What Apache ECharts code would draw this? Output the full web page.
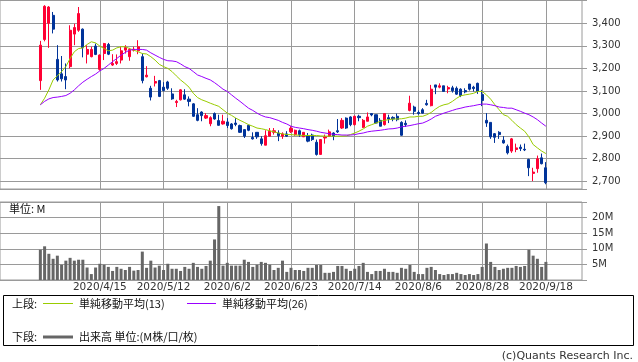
<!DOCTYPE html>
<html><head><meta charset="utf-8">
<script src="https://cdn.jsdelivr.net/npm/echarts@6/dist/echarts.min.js"></script>
<style>html,body{margin:0;padding:0;background:#fff}#c{width:638px;height:362px}</style>
</head><body><div id="c"></div>
<script>
const dates = ["2020/3/26","2020/3/27","2020/3/30","2020/3/31","2020/4/1","2020/4/2","2020/4/3","2020/4/6","2020/4/7","2020/4/8",
"2020/4/9","2020/4/10","2020/4/13","2020/4/14","2020/4/15","2020/4/16","2020/4/17","2020/4/20","2020/4/21","2020/4/22",
"2020/4/23","2020/4/24","2020/4/27","2020/4/28","2020/4/30","2020/5/1","2020/5/7","2020/5/8","2020/5/11","2020/5/12",
"2020/5/13","2020/5/14","2020/5/15","2020/5/18","2020/5/19","2020/5/20","2020/5/21","2020/5/22","2020/5/25","2020/5/26",
"2020/5/27","2020/5/28","2020/5/29","2020/6/1","2020/6/2","2020/6/3","2020/6/4","2020/6/5","2020/6/8","2020/6/9",
"2020/6/10","2020/6/11","2020/6/12","2020/6/15","2020/6/16","2020/6/17","2020/6/18","2020/6/19","2020/6/22","2020/6/23",
"2020/6/24","2020/6/25","2020/6/26","2020/6/29","2020/6/30","2020/7/1","2020/7/2","2020/7/3","2020/7/6","2020/7/7",
"2020/7/8","2020/7/9","2020/7/10","2020/7/13","2020/7/14","2020/7/15","2020/7/16","2020/7/17","2020/7/20","2020/7/21",
"2020/7/22","2020/7/27","2020/7/28","2020/7/29","2020/7/30","2020/7/31","2020/8/3","2020/8/4","2020/8/5","2020/8/6",
"2020/8/7","2020/8/11","2020/8/12","2020/8/13","2020/8/14","2020/8/17","2020/8/18","2020/8/19","2020/8/20","2020/8/21",
"2020/8/24","2020/8/25","2020/8/26","2020/8/27","2020/8/28","2020/8/31","2020/9/1","2020/9/2","2020/9/3","2020/9/4",
"2020/9/7","2020/9/8","2020/9/9","2020/9/10","2020/9/11","2020/9/14","2020/9/15","2020/9/16","2020/9/17","2020/9/18"];
const tickLabels = ["2020/4/15","2020/5/12","2020/6/2","2020/6/23","2020/7/14","2020/8/6","2020/8/28","2020/9/18"];

const open = [3146,3328,3400,3435,3240,3176,3164,3208,3352,3369,
3374,3263,3252,3299,3196,3266,3306,3215,3222,3237,
3281,3252,3281,3278,3252,3163,3112,3135,3146,3117,
3140,3087,3049,3061,3083,3064,3043,2995,3007,2980,
2955,3000,2969,2954,2963,2954,2958,2947,2929,2948,
2894,2917,2888,2860,2900,2917,2914,2900,2910,2919,
2907,2924,2897,2902,2905,2873,2819,2892,2900,2914,
2924,2936,2980,2985,2951,2988,2939,2966,3000,2995,
2970,2951,2982,2983,2988,2961,2957,3014,3029,3005,
3017,3045,3035,3127,3117,3123,3109,3114,3112,3108,
3102,3131,3117,3134,3084,2970,2961,2911,2917,2882,
2855,2834,2841,2851,2842,2797,2735,2756,2804,2760];
const close = [3303,3475,3472,3374,3149,3154,3149,3369,3381,3443,
3291,3284,3284,3262,3259,3310,3263,3222,3230,3278,
3293,3284,3285,3296,3146,3170,3073,3142,3076,3102,
3112,3065,3054,3105,3064,3054,2988,2970,2991,2991,
2982,2976,2948,2966,2947,2933,2952,2917,2900,2926,
2888,2897,2867,2902,2922,2924,2902,2910,2900,2935,
2926,2907,2917,2878,2885,2819,2885,2896,2919,2900,
2919,2970,2936,2951,2988,2982,2970,2985,2994,2958,
2944,3000,2976,2976,2973,2904,2951,3046,3010,3000,
3002,3039,3108,3117,3123,3098,3115,3101,3086,3080,
3096,3108,3111,3098,3058,2958,2897,2895,2907,2870,
2826,2888,2848,2845,2839,2760,2741,2800,2778,2694];
const high = [3322,3480,3476,3450,3303,3255,3222,3391,3398,3472,
3377,3303,3296,3310,3262,3313,3313,3263,3262,3296,
3303,3291,3296,3325,3266,3210,3123,3167,3149,3139,
3145,3112,3061,3108,3108,3076,3046,3024,3010,3002,
2988,3005,2995,2995,2980,2958,2980,2951,2929,2951,
2917,2917,2900,2926,2936,2936,2926,2917,2922,2944,
2929,2929,2917,2914,2911,2885,2885,2907,2929,2917,
2976,2980,2983,2988,2991,2995,2976,3005,3002,2995,
2980,3000,2995,2988,3000,2966,2970,3079,3035,3014,
3024,3061,3127,3127,3134,3123,3123,3123,3120,3112,
3112,3131,3123,3137,3105,3002,2961,2914,2922,2900,
2863,2892,2867,2863,2867,2800,2760,2814,2823,2785];
const low = [3105,3320,3291,3355,3142,3142,3108,3200,3303,3362,
3249,3222,3249,3259,3190,3237,3259,3211,3215,3222,
3266,3234,3275,3263,3134,3160,3058,3120,3073,3098,
3105,3061,3029,3058,3061,3032,2985,2966,2966,2976,
2944,2973,2947,2951,2936,2929,2944,2914,2892,2922,
2885,2888,2858,2860,2900,2907,2878,2888,2897,2914,
2902,2897,2897,2873,2879,2814,2819,2867,2897,2882,
2914,2932,2932,2944,2947,2966,2936,2966,2988,2955,
2944,2947,2958,2966,2966,2902,2941,3010,2995,2995,
3000,3035,3032,3086,3112,3098,3090,3093,3083,3073,
3090,3102,3098,3087,3033,2941,2888,2870,2888,2867,
2819,2826,2829,2834,2834,2723,2701,2738,2775,2687];
const ma13 = [3039,3068,3105,3149,3167,3186,3208,3244,3274,3288,
3291,3306,3318,3313,3299,3288,3278,3281,3291,3296,
3296,3288,3281,3274,3266,3264,3252,3237,3218,3208,
3200,3186,3167,3149,3134,3117,3090,3071,3061,3054,
3046,3039,3032,3017,3002,2992,2980,2970,2961,2951,
2944,2936,2933,2929,2924,2919,2914,2910,2907,2907,
2905,2904,2903,2903,2903,2903,2901,2900,2900,2900,
2900,2900,2901,2907,2914,2922,2932,2944,2951,2958,
2966,2970,2973,2976,2976,2977,2980,2985,2985,2988,
2988,2995,3005,3020,3032,3039,3043,3054,3068,3079,
3083,3086,3090,3098,3098,3083,3064,3039,3017,2995,
2988,2970,2951,2936,2922,2897,2863,2848,2834,2823];
const ma26 = [3039,3054,3065,3071,3073,3076,3080,3090,3105,3123,
3139,3152,3164,3175,3189,3200,3215,3230,3244,3259,
3271,3281,3284,3284,3284,3281,3269,3259,3249,3240,
3234,3233,3230,3220,3208,3200,3186,3171,3164,3156,
3149,3137,3123,3108,3098,3083,3068,3054,3039,3024,
3014,3002,2992,2985,2982,2976,2970,2961,2954,2944,
2939,2936,2933,2929,2926,2922,2917,2914,2911,2908,
2907,2905,2905,2905,2907,2911,2914,2919,2922,2924,
2926,2929,2932,2933,2936,2941,2944,2947,2951,2955,
2958,2966,2976,2988,2995,3002,3008,3014,3020,3024,
3029,3032,3035,3039,3042,3042,3039,3035,3029,3027,
3024,3024,3017,3010,3002,2995,2985,2973,2958,2944];
const volume = [9.7,10.8,8.4,6.8,7.8,4.9,6.2,7.1,6.2,6.5,
6.5,4.0,1.9,4.0,5.2,4.9,4.2,2.9,4.2,3.6,
3.2,4.2,3.0,3.2,9.1,3.9,6.2,4.0,4.6,3.2,
5.2,3.6,3.6,2.9,4.2,3.6,5.5,4.2,3.6,4.5,
6.2,13.0,23.7,4.6,5.5,4.6,4.6,4.6,6.5,5.8,
4.2,4.9,5.8,5.5,4.9,3.2,3.9,6.2,2.6,3.9,
3.2,3.2,2.9,3.9,3.9,4.8,4.8,2.3,2.3,2.6,
4.5,4.5,3.6,2.9,3.6,4.5,5.5,2.6,1.9,2.9,
2.9,3.6,2.6,2.6,2.3,3.9,3.6,4.8,2.6,1.9,
1.9,3.9,4.2,3.2,1.9,1.6,1.9,1.9,2.3,1.9,
1.6,1.9,1.6,1.9,4.2,11.7,5.8,4.2,3.2,3.6,
3.9,3.9,4.5,4.2,4.5,9.7,7.8,6.8,4.2,5.8];

const PAD_L = 9, PAD_R = 8;
const cats = [];
for (let i = 0; i < PAD_L; i++) cats.push('L' + i);
dates.forEach(d => cats.push(d));
for (let i = 0; i < PAD_R; i++) cats.push('R' + i);

const candle = dates.map((d, i) => [d, open[i], close[i], low[i], high[i]]);
const ma13Data = dates.map((d, i) => [d, ma13[i]]);
const ma26Data = dates.map((d, i) => [d, ma26[i]]);
const volData = dates.map((d, i) => [d, volume[i]]);

const isTick = (idx, val) => tickLabels.indexOf(val) >= 0;
const GRID = '#9a9a9a';
const AX_FONT = 'DejaVu Sans';
const JP_FONT = '"Noto Sans CJK JP", sans-serif';

const chart = echarts.init(document.getElementById('c'), null, {renderer: 'canvas'});
chart.setOption({
  animation: false,
  backgroundColor: '#fff',
  grid: [
    {left: 0, top: 0, width: 582, height: 189, show: true, borderColor: GRID, borderWidth: 1, containLabel: false},
    {left: 0, top: 202, width: 582, height: 78, show: true, borderColor: GRID, borderWidth: 1, containLabel: false}
  ],
  xAxis: [
    {type: 'category', gridIndex: 0, data: cats, boundaryGap: true,
     axisLine: {show: false}, axisTick: {show: false}, axisLabel: {show: false},
     splitLine: {show: true, interval: isTick, alignWithLabel: true, lineStyle: {color: GRID, width: 1}}},
    {type: 'category', gridIndex: 1, data: cats, boundaryGap: true,
     axisLine: {show: false}, axisTick: {show: false, alignWithLabel: true},
     axisLabel: {show: true, interval: isTick, margin: 2, fontSize: 10.5, fontFamily: AX_FONT, color: '#333'},
     splitLine: {show: true, interval: isTick, alignWithLabel: true, lineStyle: {color: GRID, width: 1}}}
  ],
  yAxis: [
    {type: 'value', gridIndex: 0, position: 'right', min: 2666, max: 3503, splitNumber: 8, scale: true,
     axisLine: {show: false},
     axisTick: {show: true, length: 5, lineStyle: {color: GRID}},
     axisLabel: {margin: 10, fontSize: 10, fontFamily: AX_FONT, color: '#333',
       formatter: v => (v % 100 === 0 && v <= 3400) ? v.toLocaleString('en-US') : ''},
     splitLine: {show: true, lineStyle: {color: GRID, width: 1}}},
    {type: 'value', gridIndex: 1, position: 'right', min: 0, max: 25, interval: 5,
     axisLine: {show: false},
     axisTick: {show: true, length: 5, lineStyle: {color: GRID}},
     axisLabel: {margin: 10, fontSize: 10, fontFamily: AX_FONT, color: '#333',
       formatter: v => (v > 0 && v < 25) ? v + 'M' : ''},
     splitLine: {show: true, lineStyle: {color: GRID, width: 1}}}
  ],
  series: [
    {type: 'candlestick', xAxisIndex: 0, yAxisIndex: 0, data: candle,
     encode: {x: 0, y: [1, 2, 3, 4]}, barWidth: 2.6,
     itemStyle: {color: '#ff0033', color0: '#003399', borderColor: '#ff0033', borderColor0: '#003399', borderWidth: 1}},
    {type: 'line', xAxisIndex: 0, yAxisIndex: 0, data: ma13Data, symbol: 'none',
     lineStyle: {color: '#99cc00', width: 1}, z: 3},
    {type: 'line', xAxisIndex: 0, yAxisIndex: 0, data: ma26Data, symbol: 'none',
     lineStyle: {color: '#9900ff', width: 1}, z: 3},
    {type: 'bar', xAxisIndex: 1, yAxisIndex: 1, data: volData, barWidth: 3,
     itemStyle: {color: '#666666'}}
  ],
  graphic: [
    {type: 'text', left: 9, top: 203, style: {text: '単位: M', font: '11px ' + JP_FONT, fill: '#111'}},
    {type: 'rect', shape: {x: 3.5, y: 295.5, width: 630, height: 50}, style: {fill: 'none', stroke: '#000', lineWidth: 1}},
    {type: 'text', x: 12, y: 303.5, style: {text: '上段:', font: '11px ' + JP_FONT, fill: '#111', verticalAlign: 'middle'}},
    {type: 'line', shape: {x1: 43, y1: 303.5, x2: 73, y2: 303.5}, style: {stroke: '#99cc00', lineWidth: 1}},
    {type: 'text', x: 79, y: 303.5, style: {text: '単純移動平均(13)', font: '11px ' + JP_FONT, fill: '#111', verticalAlign: 'middle'}},
    {type: 'line', shape: {x1: 187, y1: 303.5, x2: 216, y2: 303.5}, style: {stroke: '#9900ff', lineWidth: 1}},
    {type: 'text', x: 222, y: 303.5, style: {text: '単純移動平均(26)', font: '11px ' + JP_FONT, fill: '#111', verticalAlign: 'middle'}},
    {type: 'text', x: 12, y: 337, style: {text: '下段:', font: '11px ' + JP_FONT, fill: '#111', verticalAlign: 'middle'}},
    {type: 'line', shape: {x1: 43, y1: 337, x2: 73, y2: 337}, style: {stroke: '#666666', lineWidth: 3}},
    {type: 'text', x: 79, y: 337, style: {text: '出来高 単位:(M株/口/枚)', font: '11px ' + JP_FONT, fill: '#111', verticalAlign: 'middle'}},
    {type: 'text', x: 633, y: 356, style: {text: '(c)Quants Research Inc.', font: '11px "DejaVu Sans"', fill: '#333', align: 'right', verticalAlign: 'middle'}}
  ]
});
</script>
</body></html>
